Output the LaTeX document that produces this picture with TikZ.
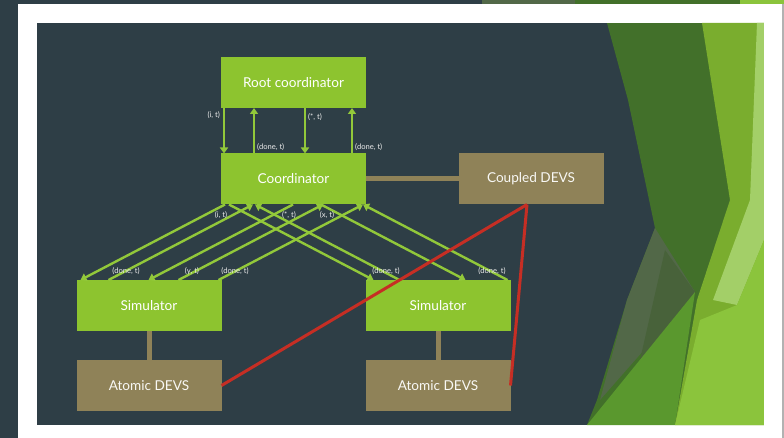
\documentclass[tikz,border=0pt]{standalone}
\usepackage{fontspec}
\setmainfont{Lato}
\usetikzlibrary{arrows.meta}
\definecolor{slate}{RGB}{46,62,70}
\definecolor{limeg}{RGB}{141,196,47}
\definecolor{limeline}{RGB}{146,200,58}
\definecolor{devstan}{RGB}{143,130,88}
\definecolor{devsred}{RGB}{198,46,36}
\definecolor{gdark}{RGB}{66,112,42}
\definecolor{ggreen}{RGB}{122,173,46}
\definecolor{glight}{RGB}{163,207,104}
\definecolor{gbright}{RGB}{139,196,60}
\definecolor{gmid}{RGB}{90,152,46}
\definecolor{ggray}{RGB}{82,104,72}
\definecolor{ggraydk}{RGB}{72,98,58}
\tikzset{
  sim/.style={fill=limeg,minimum width=145pt,minimum height=51pt,inner sep=0pt,outer sep=0pt,text=white,font=\fontsize{13.6}{15}\selectfont},
  devs/.style={sim,fill=devstan,text=white!94!devstan},
  msg/.style={limeline,line width=2.4pt,-{Triangle[width=8pt,length=6pt]}},
  mlab/.style={text=white!85!gray,font=\fontsize{7.6}{8}\selectfont,inner sep=0pt},
  link/.style={devstan,line width=5pt},
  devslink/.style={devsred,line width=3pt}
}

\begin{document}
\begin{tikzpicture}[x=1pt,y=-1pt]
      \useasboundingbox (0,0) rectangle (784,438);
      % slide frame
      \fill[slate] (0,0) rectangle (784,438);
      \fill[white] (18,4) rectangle (782,438);
      \fill[gray!60] (782,4) rectangle (784,438);
      \fill[ggray] (482,0) rectangle (575,4);
      \fill[gdark] (575,0) rectangle (740,4);
      \fill[gbright] (740,0) rectangle (784,4);
      \fill[slate] (37,23) rectangle (764,425);
      \begin{scope}
        \clip (607,23) -- (628,100) -- (655,228) -- (627,300) -- (597,400) -- (587,425) -- (764,425) -- (764,23) -- cycle;
        \fill[gdark] (580,23) rectangle (764,425);
        \fill[ggray] (655,228) -- (695,292) -- (600,400) -- (627,300) -- cycle;
        \fill[ggraydk] (665,250) -- (695,292) -- (640,360) -- cycle;
        \fill[gmid] (587,425) -- (695,292) -- (675,425) -- cycle;
        \fill[ggreen] (702,23) -- (764,23) -- (764,425) -- (675,425) -- (697,300) -- (730,200) -- cycle;
        \fill[glight] (757,23) -- (764,23) -- (764,240) -- (737,305) -- (713,300) -- (750,200) -- cycle;
        \fill[gbright] (675,425) -- (700,320) -- (737,305) -- (764,240) -- (764,425) -- cycle;
      \end{scope}
      % boxes
      \node[sim] (root) at (293.5,82.5) {Root coordinator};
      \node[sim] (coord) at (293.5,179) {Coordinator};
      \node[devs] (coupled) at (531,179) {Coupled DEVS};
      \node[sim] (simL) at (149,305.5) {Simulator};
      \node[sim] (simR) at (438,305.5) {Simulator};
      \node[devs] (atomL) at (149,385.5) {Atomic DEVS};
      \node[devs] (atomR) at (438,385.5) {Atomic DEVS};
      \draw[link] (coord.east) -- (coupled.west);
      \draw[link] (simL.south) -- (atomL.north);
      \draw[link] (simR.south) -- (atomR.north);
      % root <-> coordinator
      \draw[msg] ([xshift=3pt]root.south west) -- ([xshift=3pt]coord.north west);
      \draw[msg] ([xshift=33pt]coord.north west) -- ([xshift=33pt]root.south west);
      \draw[msg] ([xshift=84pt]root.south west) -- ([xshift=84pt]coord.north west);
      \draw[msg] ([xshift=131pt]coord.north west) -- ([xshift=131pt]root.south west);
      % coordinator <-> simulators
      \foreach \d in {4pt,72pt} \draw[msg] ([xshift=\d]coord.south west) -- ([xshift=\d]simL.north west);
      \foreach \u in {32pt,102pt,142pt} \draw[msg] ([xshift=\u]simL.north west) -- ([xshift=\u]coord.south west);
      \foreach \d in {8pt,100pt} \draw[msg] ([xshift=\d]coord.south west) -- ([xshift=\d]simR.north west);
      \foreach \u in {34pt,142pt} \draw[msg] ([xshift=\u]simR.north west) -- ([xshift=\u]coord.south west);
      % message labels
      \node[mlab,anchor=east] (lri) at (220,115) {(i, t)};
      \node[mlab,anchor=west] (lrd1) at (257,147) {(done, t)};
      \node[mlab,anchor=west] (lrs) at (308,117) {(*, t)};
      \node[mlab,anchor=west] (lrd2) at (355,147) {(done, t)};
      \node[mlab] (lci) at (221,215) {(i, t)};
      \node[mlab] (lcs) at (289,215) {(*, t)};
      \node[mlab] (lcx) at (327,215) {(x, t)};
      \node[mlab] (lld1) at (126,271) {(done, t)};
      \node[mlab] (lly) at (192,271) {(y, t)};
      \node[mlab] (lld2) at (235,271) {(done, t)};
      \node[mlab] (lrd3) at (386,271) {(done, t)};
      \node[mlab] (lrd4) at (492,271) {(done, t)};
      % atomic models to coupled model
      \draw[devslink] (atomL.east) -- ([xshift=-4pt]coupled.south);
      \draw[devslink] (atomR.east) -- ([xshift=-4pt]coupled.south);
    \end{tikzpicture}
\end{document}
